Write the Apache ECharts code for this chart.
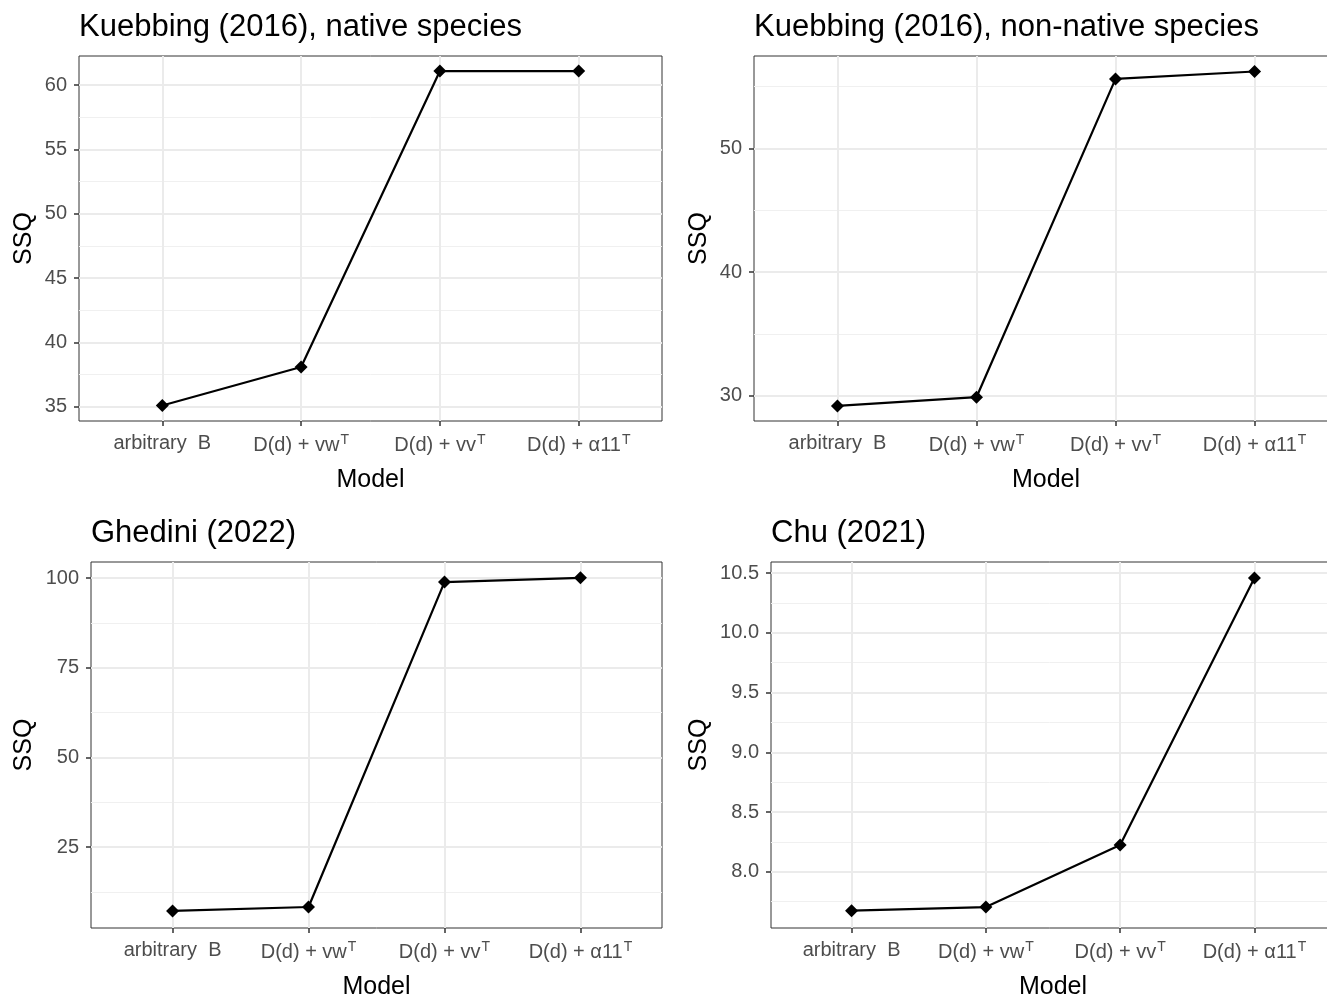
<!DOCTYPE html>
<html>
<head>
<meta charset="utf-8">
<script src="https://cdn.jsdelivr.net/npm/echarts@6/dist/echarts.min.js"></script>
<style>
  html, body { margin: 0; background: #fff; }
  #main { width: 1327px; height: 997px; }
</style>
</head>
<body>
<div id="main"></div>
<script>
// categories (x axis)
const models = ['arbitrary  B', 'D(d) + vw{s|T}', 'D(d) + vv{s|T}', 'D(d) + α11{s|T}'];
const modelPos = [1, 2, 3, 4];

const panelTitles = [
  'Kuebbing (2016), native species',
  'Kuebbing (2016), non-native species',
  'Ghedini (2022)',
  'Chu (2021)'
];

// SSQ values
const kuebbingNative = [35.1, 38.1, 61.1, 61.1];
const kuebbingNonNative = [29.2, 29.9, 55.6, 56.2];
const ghedini = [7.2, 8.3, 98.9, 100.1];
const chu = [7.675, 7.705, 8.225, 10.46];

// y tick labels
const ticksNative = [35, 40, 45, 50, 55, 60];
const ticksNonNative = [30, 40, 50];
const ticksGhedini = [25, 50, 75, 100];
const ticksChu = [8.0, 8.5, 9.0, 9.5, 10.0, 10.5];

// minor grid lines
const minorNative = [37.5, 42.5, 47.5, 52.5, 57.5];
const minorNonNative = [35, 45, 55];
const minorGhedini = [12.5, 37.5, 62.5, 87.5];
const minorChu = [7.75, 8.25, 8.75, 9.25, 9.75, 10.25];

const panels = [
  { data: kuebbingNative, ticks: ticksNative, minor: minorNative, min: 33.9, max: 62.27, dec: 0,
    left: 79, top: 56, width: 583, height: 365, nameGap: 42 },
  { data: kuebbingNonNative, ticks: ticksNonNative, minor: minorNonNative, min: 27.98, max: 57.45, dec: 0,
    left: 754, top: 56, width: 584, height: 365, nameGap: 42 },
  { data: ghedini, ticks: ticksGhedini, minor: minorGhedini, min: 2.45, max: 104.5, dec: 0,
    left: 91, top: 562, width: 571, height: 366, nameGap: 54 },
  { data: chu, ticks: ticksChu, minor: minorChu, min: 7.53, max: 10.593, dec: 1,
    left: 771, top: 562, width: 564, height: 366, nameGap: 59 }
];

const font = 'Liberation Sans, Arial, Helvetica, sans-serif';
const myChart = echarts.init(document.getElementById('main'));

const option = {
  backgroundColor: '#fff',
  animation: false,
  title: [], grid: [], xAxis: [], yAxis: [], series: []
};

panels.forEach((p, i) => {
  option.title.push({
    text: panelTitles[i],
    left: p.left,
    top: p.top - 44,
    padding: 0,
    textStyle: { fontFamily: font, fontSize: 31, fontWeight: 'normal', color: '#000' }
  });
  option.grid.push({
    left: p.left, top: p.top, width: p.width, height: p.height,
    show: true, borderColor: '#333', borderWidth: 1, backgroundColor: 'transparent',
    outerBoundsMode: 'none'
  });
  option.xAxis.push({
    type: 'value', gridIndex: i, min: 0.4, max: 4.6,
    name: 'Model', nameLocation: 'middle', nameGap: 47,
    nameTextStyle: { fontFamily: font, fontSize: 25, color: '#000' },
    axisLine: { show: false },
    axisTick: { show: true, length: 5, customValues: modelPos, lineStyle: { color: '#333', width: 1.5 } },
    axisLabel: {
      customValues: modelPos, margin: 12,
      fontFamily: font, fontSize: 20, color: '#4d4d4d',
      formatter: v => models[Math.round(v) - 1],
      rich: { s: { fontFamily: font, fontSize: 14, color: '#4d4d4d', padding: [0, 0, 11, 1] } }
    },
    splitLine: { show: true, customValues: modelPos, lineStyle: { color: '#ebebeb', width: 2 } }
  });
  // major y axis with labels
  option.yAxis.push({
    type: 'value', gridIndex: i, min: p.min, max: p.max,
    name: 'SSQ', nameLocation: 'middle', nameGap: p.nameGap,
    nameTextStyle: { fontFamily: font, fontSize: 25, color: '#000' },
    axisLine: { show: false },
    axisTick: { show: true, length: 5, customValues: p.ticks, lineStyle: { color: '#333', width: 1.5 } },
    axisLabel: {
      customValues: p.ticks, margin: 12,
      fontFamily: font, fontSize: 20, color: '#4d4d4d',
      formatter: v => v.toFixed(p.dec)
    },
    splitLine: { show: true, customValues: p.ticks, lineStyle: { color: '#ebebeb', width: 2 } },
    z: 1
  });
  // minor y grid
  option.yAxis.push({
    type: 'value', gridIndex: i, min: p.min, max: p.max, position: 'left',
    axisLine: { show: false },
    axisTick: { show: false, customValues: p.minor },
    axisLabel: { show: false, customValues: p.minor },
    splitLine: { show: true, customValues: p.minor, lineStyle: { color: '#f0f0f0', width: 1 } },
    z: 0
  });
  option.series.push({
    type: 'line',
    xAxisIndex: i,
    yAxisIndex: i * 2,
    data: p.data.map((v, k) => [modelPos[k], v]),
    symbol: 'diamond',
    symbolSize: 13,
    showSymbol: true,
    lineStyle: { color: '#000', width: 2.2 },
    itemStyle: { color: '#000' },
    z: 5
  });
});

myChart.setOption(option);
</script>
</body>
</html>
